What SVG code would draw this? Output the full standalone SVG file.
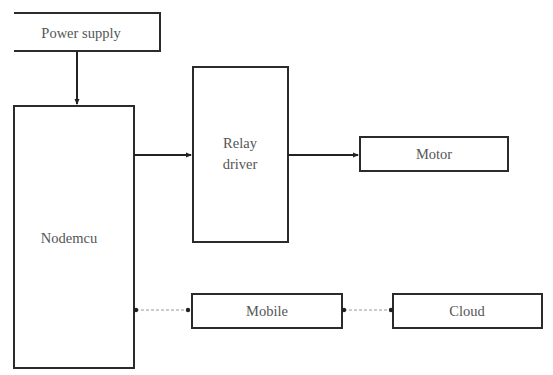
<svg xmlns="http://www.w3.org/2000/svg" width="553" height="375" viewBox="0 0 553 375">
<style>
.box{fill:#fff;stroke:#2b2b2b;stroke-width:2}
.t{font-family:'Liberation Serif','Times New Roman','DejaVu Serif',serif;font-size:14.5px;fill:#555;text-anchor:middle}
.c{stroke:#222;stroke-width:2;fill:none}
.d{stroke:#999;stroke-width:1.2;stroke-dasharray:3 2;fill:none}
</style>
<defs>
<marker id="a" markerWidth="6" markerHeight="6" refX="5" refY="3" orient="auto" markerUnits="userSpaceOnUse"><path d="M0,0.5 L6,3 L0,5.5 Z" fill="#222"/></marker>
<marker id="dot" markerWidth="6" markerHeight="6" refX="3" refY="3" markerUnits="userSpaceOnUse"><circle cx="3" cy="3" r="2.2" fill="#222"/></marker>
</defs>
<rect width="553" height="375" fill="#fff"/>
<g id="power">
<path class="box" d="M14,13 H160 V51 H14"/>
<text class="t" x="81" y="38">Power supply</text>
</g>
<g id="nodemcu">
<rect class="box" x="14" y="106" width="120" height="262"/>
<text class="t" x="69" y="243">Nodemcu</text>
</g>
<g id="relay">
<rect class="box" x="193" y="67" width="95" height="175"/>
<text class="t" x="240" y="148">Relay</text>
<text class="t" x="240" y="169">driver</text>
</g>
<g id="motor">
<rect class="box" x="360" y="137" width="148" height="34"/>
<text class="t" x="434" y="159">Motor</text>
</g>
<g id="mobile">
<rect class="box" x="192" y="294" width="150" height="34"/>
<text class="t" x="267" y="316">Mobile</text>
</g>
<g id="cloud">
<rect class="box" x="393" y="294" width="149" height="34"/>
<text class="t" x="467" y="316">Cloud</text>
</g>
<g id="connectors">
<path class="c" d="M77,51 V104" marker-end="url(#a)"/>
<path class="c" d="M134,155 H191" marker-end="url(#a)"/>
<path class="c" d="M288,155 H358" marker-end="url(#a)"/>
<path class="d" d="M136,310 H188" marker-start="url(#dot)" marker-end="url(#dot)"/>
<path class="d" d="M344,310 H391" marker-start="url(#dot)" marker-end="url(#dot)"/>
</g>
</svg>
